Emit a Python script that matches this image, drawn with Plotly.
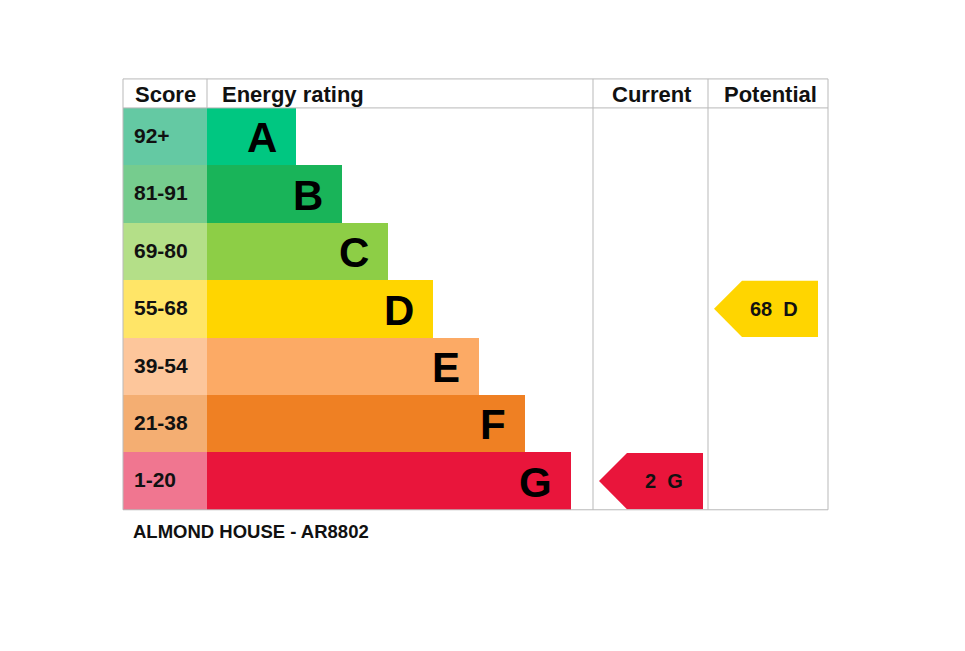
"""Energy performance rating chart rebuilt with Plotly"""

import plotly.graph_objects as go

# ---- data ----
bands = ['A', 'B', 'C', 'D', 'E', 'F', 'G']
score_ranges = ['92+', '81-91', '69-80', '55-68', '39-54', '21-38', '1-20']
band_colors = ['#00c781', '#19b459', '#8dce46', '#ffd500', '#fcaa65', '#ef8023', '#e9153b']
score_colors = ['#64c9a3', '#76cc8e', '#b4df88', '#ffe567', '#fdc69b', '#f4ae72', '#f07690']
headers = ['Score', 'Energy rating', 'Current', 'Potential']
current_score, current_band = 2, 'G'
potential_score, potential_band = 68, 'D'
footer = 'ALMOND HOUSE - AR8802'

FONT = 'Liberation Sans, Arial, sans-serif'
GRID = '#b9b9b9'

# column edges in x units (the x axis spans the page width)
x_left, x_score, x_bars, x_cur, x_pot, x_right = 123, 207, 207, 593, 708, 828
bar_min, bar_step = 89, 45.8

rows = list(range(len(bands)))
bar_len = [bar_min + bar_step * i for i in rows]

fig = go.Figure()

# score column
fig.add_trace(go.Bar(
    y=rows, x=[x_score - x_left] * len(rows), base=x_left, orientation='h',
    width=1, marker=dict(color=score_colors, line=dict(width=0)),
    hoverinfo='skip', showlegend=False))

# rating bars
fig.add_trace(go.Bar(
    y=rows, x=bar_len, base=x_bars, orientation='h',
    width=1, marker=dict(color=band_colors, line=dict(width=0)),
    hovertext=[f'{b}: {s}' for b, s in zip(bands, score_ranges)],
    hoverinfo='text', showlegend=False))

annotations = []
for i in rows:
    annotations.append(dict(x=x_left + 9, y=i - 0.02, text=f'<b>{score_ranges[i]}</b>',
                            xanchor='left', yanchor='middle', showarrow=False,
                            font=dict(family=FONT, size=21, color='#111')))
    annotations.append(dict(x=x_bars + bar_len[i] - 17, y=i + 0.02, text=f'<b>{bands[i]}</b>',
                            xanchor='right', yanchor='middle', showarrow=False,
                            font=dict(family=FONT, size=42, color='#000')))


def arrow(band, score, col_left, color):
    """Arrow pointing left in a column, placed on the band's row"""
    r = bands.index(band)
    tip = col_left + 6
    body = tip + 28
    end = tip + 104
    h = 0.49
    xs = [tip, body, end, end, body, tip]
    ys = [r, r - h, r - h, r + h, r + h, r]
    fig.add_trace(go.Scatter(x=xs, y=ys, mode='lines', fill='toself',
                             fillcolor=color, line=dict(width=0, color=color),
                             hoverinfo='skip', showlegend=False))
    annotations.append(dict(x=end - 18, y=r, text=f'<b>{score}&nbsp;&nbsp;{band}</b>',
                            xanchor='right', yanchor='middle', showarrow=False,
                            font=dict(family=FONT, size=20, color='#111')))


arrow(current_band, current_score, x_cur, band_colors[bands.index(current_band)])
arrow(potential_band, potential_score, x_pot, band_colors[bands.index(potential_band)])

# header texts
top, head_bottom, bottom = -1.005, -0.5, 6.5
head_y = (top + head_bottom) / 2 + 0.02
annotations.append(dict(x=x_left + 10, y=head_y, text=f'<b>{headers[0]}</b>', xanchor='left'))
annotations.append(dict(x=x_score + 13, y=head_y, text=f'<b>{headers[1]}</b>', xanchor='left'))
annotations.append(dict(x=(x_cur + x_pot) / 2 + 1, y=head_y, text=f'<b>{headers[2]}</b>', xanchor='center'))
annotations.append(dict(x=(x_pot + x_right) / 2 + 2, y=head_y, text=f'<b>{headers[3]}</b>', xanchor='center'))
for a in annotations[-4:]:
    a.update(yanchor='middle', showarrow=False, font=dict(family=FONT, size=22, color='#111'))

annotations.append(dict(x=x_left + 8, y=6.87, text=f'<b>{footer}</b>', xanchor='left',
                        yanchor='middle', showarrow=False,
                        font=dict(family=FONT, size=18.5, color='#111')))

# table lines
line = dict(color=GRID, width=1)
shapes = [
    dict(type='rect', x0=x_left, x1=x_right, y0=top, y1=bottom, line=line, layer='above'),
    dict(type='line', x0=x_left, x1=x_right, y0=head_bottom, y1=head_bottom, line=line),
    dict(type='line', x0=x_score, x1=x_score, y0=top, y1=head_bottom, line=line),
    dict(type='line', x0=x_cur, x1=x_cur, y0=top, y1=bottom, line=line),
    dict(type='line', x0=x_pot, x1=x_pot, y0=top, y1=bottom, line=line),
]

# the page body adds an 8px offset, so the axes start 8 units in
row_px = 57.4
shift = 8 / row_px
fig.update_layout(
    width=965, height=651,
    margin=dict(l=0, r=0, t=0, b=0),
    paper_bgcolor='white', plot_bgcolor='white',
    barmode='overlay', bargap=0,
    xaxis=dict(range=[8, 973], visible=False, fixedrange=True),
    yaxis=dict(range=[8.96 + shift, -2.38 + shift], visible=False, fixedrange=True),
    annotations=annotations, shapes=shapes,
)

fig.write_html('out.html')
